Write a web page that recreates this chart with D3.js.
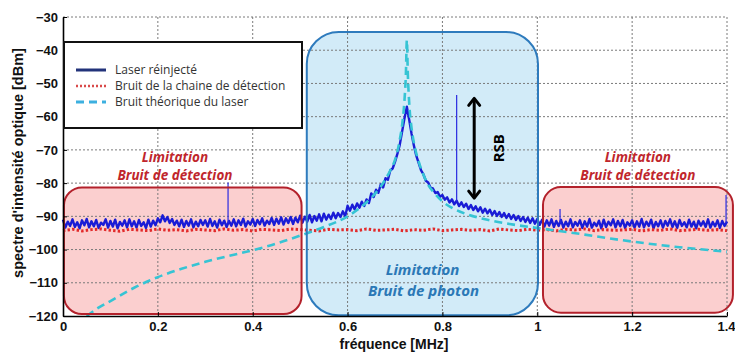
<!DOCTYPE html>
<html>
<head>
<meta charset="utf-8">
<script src="https://cdn.jsdelivr.net/npm/d3@7"></script>
<style>
  body { margin: 0; background: #fff; }
  svg text { font-family: "Liberation Sans", Arial, sans-serif; }
</style>
</head>
<body>
<div id="chart"></div>
<script>
// frequency axis (MHz) and level ticks (dBm)
var freqTicks = [0, 0.2, 0.4, 0.6, 0.8, 1, 1.2, 1.4];
var levelTicks = [-30, -40, -50, -60, -70, -80, -90, -100, -110, -120];

// laser spectrum, one sample every 0.005 MHz from 0 to 1.4
var laserStep = 0.005;
var laserLevel = [
  -91.0,-93.4,-91.6,-92.9,-90.9,-93.2,-91.8,-93.6,-91.2,-92.7,
  -90.8,-93.3,-91.5,-93.0,-91.1,-93.5,-91.9,-92.6,-90.9,-93.4,
  -91.4,-93.1,-91.0,-93.6,-91.7,-92.8,-91.2,-93.3,-90.9,-93.0,
  -91.5,-93.4,-91.1,-92.9,-91.8,-93.5,-91.0,-93.1,-91.3,-92.7,
  -90.6,-91.8,-89.7,-91.5,-90.2,-92.0,-90.8,-92.6,-91.3,-93.0,
  -91.0,-93.2,-91.4,-92.8,-90.9,-93.3,-91.6,-93.0,-91.1,-92.6,
  -91.2,-93.1,-90.8,-92.9,-91.5,-93.4,-91.0,-92.7,-91.3,-93.2,
  -91.4,-92.8,-90.9,-93.0,-91.2,-92.6,-90.7,-93.1,-91.5,-92.5,
  -90.8,-92.9,-91.1,-92.4,-90.6,-92.8,-91.3,-92.3,-90.5,-92.6,
  -90.7,-92.2,-90.3,-92.5,-90.6,-92.0,-90.2,-92.3,-90.4,-91.8,
  -89.8,-91.9,-90.1,-91.6,-89.6,-91.8,-89.9,-91.3,-89.4,-91.5,
  -89.2,-91.0,-89.5,-90.8,-88.9,-90.6,-89.0,-90.2,-88.5,-90.0,
  -86.8,-88.3,-86.5,-87.9,-86.1,-87.4,-85.6,-86.9,-84.9,-86.0,
  -83.1,-84.2,-82.0,-82.9,-80.4,-81.3,-78.5,-79.0,-76.2,-75.6,
  -73.6,-71.2,-68.5,-64.5,-60.5,-57.0,-61.0,-65.2,-68.8,-71.8,
  -74.0,-76.2,-77.4,-79.3,-79.8,-81.4,-81.6,-83.0,-82.7,-84.1,
  -83.6,-85.0,-84.3,-85.8,-84.9,-86.4,-85.3,-86.9,-85.8,-87.2,
  -86.2,-87.8,-86.6,-88.1,-87.0,-88.5,-87.3,-88.9,-87.7,-89.1,
  -88.0,-89.6,-88.4,-89.9,-88.7,-90.2,-89.0,-90.5,-89.3,-90.8,
  -89.6,-91.1,-89.9,-91.4,-90.2,-91.7,-90.4,-92.0,-90.6,-92.2,
  -90.8,-92.6,-91.0,-93.1,-91.2,-92.8,-90.9,-93.2,-91.4,-92.9,
  -91.1,-93.4,-91.6,-93.0,-90.9,-93.3,-91.7,-92.8,-91.2,-93.5,
  -91.5,-93.1,-90.8,-93.4,-91.9,-92.9,-91.3,-93.6,-91.0,-93.2,
  -91.6,-92.7,-90.9,-93.3,-91.4,-93.0,-91.1,-93.5,-91.8,-92.8,
  -91.2,-93.4,-91.5,-93.1,-90.8,-93.3,-91.6,-92.9,-91.0,-93.6,
  -91.7,-93.0,-91.2,-93.4,-91.4,-92.8,-90.9,-93.2,-91.5,-93.5,
  -91.1,-92.9,-91.8,-93.3,-91.0,-93.1,-91.6,-93.6,-91.3,-92.8,
  -91.5,-93.2,-90.9,-93.4,-91.7,-93.0,-91.2,-93.5,-91.4,-92.9,-91.6
];

// narrow spurious lines in the laser spectrum
var spikeFreq = [0.348, 0.83, 1.048, 1.398];
var spikeBase = [-92.0, -85.5, -92.0, -92.0];
var spikeTop = [-79.8, -53.5, -87.8, -83.6];

// detection chain noise, one sample every 0.02 MHz
var detStep = 0.02;
var detLevel = [
  -94.3,-93.9,-94.4,-94.0,-93.8,-94.2,-94.5,-93.9,-94.1,-94.3,
  -93.8,-94.2,-94.0,-94.4,-93.9,-94.1,-94.3,-93.8,-94.2,-94.0,
  -94.4,-93.9,-94.1,-94.3,-93.8,-94.0,-94.2,-94.4,-93.9,-94.1,
  -94.0,-94.3,-93.8,-94.2,-94.1,-93.9,-94.4,-94.0,-94.2,-93.8,
  -94.3,-94.1,-93.9,-94.2,-94.0,-94.4,-93.8,-94.1,-94.3,-93.9,
  -94.2,-94.0,-94.4,-93.9,-94.1,-93.8,-94.3,-94.0,-94.2,-94.1,
  -93.9,-94.4,-94.0,-94.2,-93.8,-94.3,-94.1,-93.9,-94.2,-94.0,-94.3
];

// theoretical laser noise
var theoFreq = [0.05,0.075,0.1,0.15,0.2,0.25,0.3,0.35,0.4,0.45,0.5,0.55,0.6,0.63,0.65,0.67,0.68,0.69,0.7,0.705,0.71,0.715,0.72,0.723,0.725,
  0.727,0.73,0.735,0.74,0.75,0.76,0.77,0.78,0.8,0.825,0.85,0.9,0.95,1.0,1.05,1.1,1.15,1.2,1.25,1.3,1.35,1.4];
var theoLevel = [-120,-117.5,-115.5,-111.5,-108.3,-105.8,-103.7,-101.9,-100.2,-98.2,-95.8,-93.2,-90,-87,-84.4,-81,-78.8,-76.2,-73,-70.5,-67,-62.5,-55,-47,-37,
  -47,-56,-63.5,-68,-73.5,-77.5,-80.5,-82.5,-85.5,-87.8,-89.3,-91.2,-92.5,-93.5,-94.5,-95.5,-96.6,-97.6,-98.5,-99.3,-100,-100.7];

var seriesNames = ["Laser réinjecté", "Bruit de la chaine de détection", "Bruit théorique du laser"];

var width = 735, height = 352;
var x = d3.scaleLinear().domain([0, 1.4]).range([63, 727]);
var y = d3.scaleLinear().domain([-120, -30]).range([316, 17]);

var svg = d3.select("#chart").append("svg")
  .attr("width", width)
  .attr("height", height);

var pink = "#fbcfcf", pinkEdge = "#b3212b";
var sky = "#d2ebf8", skyEdge = "#2e7bbd";

// zones
var zones = [
  { x0: 0.002, x1: 0.503, y0: -81.3, y1: -119.4, fill: pink, stroke: pinkEdge, r: 18 },
  { x0: 1.012, x1: 1.4125, y0: -81.2, y1: -119.0, fill: pink, stroke: pinkEdge, r: 18 },
  { x0: 0.514, x1: 1.0015, y0: -34.5, y1: -119.8, fill: sky, stroke: skyEdge, r: 32 }
];

svg.append("g").selectAll("rect")
  .data(zones)
  .enter().append("rect")
  .attr("x", function (d) { return x(d.x0); })
  .attr("y", function (d) { return y(d.y0); })
  .attr("width", function (d) { return x(d.x1) - x(d.x0); })
  .attr("height", function (d) { return y(d.y1) - y(d.y0); })
  .attr("rx", function (d) { return d.r; })
  .attr("fill", function (d) { return d.fill; });

// grid
var grid = svg.append("g").attr("stroke", "#7a7a7a").attr("stroke-dasharray", "2,2").attr("stroke-width", 1);
grid.selectAll(".vx")
  .data(freqTicks.slice(1))
  .enter().append("line")
  .attr("x1", function (d) { return x(d); })
  .attr("x2", function (d) { return x(d); })
  .attr("y1", y(-30))
  .attr("y2", y(-120));
grid.selectAll(".hy")
  .data(levelTicks.slice(0, -1))
  .enter().append("line")
  .attr("x1", x(0))
  .attr("x2", x(1.4))
  .attr("y1", function (d) { return y(d); })
  .attr("y2", function (d) { return y(d); });

// data
var laserPts = laserLevel.map(function (v, i) { return [i * laserStep, v]; });
var detPts = detLevel.map(function (v, i) { return [i * detStep, v]; });
var theoPts = theoFreq.map(function (f, i) { return [f, theoLevel[i]]; });

var line = d3.line()
  .x(function (d) { return x(d[0]); })
  .y(function (d) { return y(d[1]); });

var plot = svg.append("g");

plot.append("path")
  .datum(laserPts)
  .attr("d", line)
  .attr("fill", "none")
  .attr("stroke", "#1a1cd6")
  .attr("stroke-width", 2.4)
  .attr("stroke-linejoin", "round");

plot.selectAll(".spike")
  .data(spikeFreq)
  .enter().append("line")
  .attr("x1", function (d) { return x(d); })
  .attr("x2", function (d) { return x(d); })
  .attr("y1", function (d, i) { return y(spikeBase[i]); })
  .attr("y2", function (d, i) { return y(spikeTop[i]); })
  .attr("stroke", "#2a2ae0")
  .attr("stroke-width", 1.2);

plot.append("path")
  .datum(detPts)
  .attr("d", line)
  .attr("fill", "none")
  .attr("stroke", "#e22a2a")
  .attr("stroke-width", 3)
  .attr("stroke-dasharray", "2.4,2.2");

plot.append("path")
  .datum(theoPts)
  .attr("d", line.curve(d3.curveMonotoneX))
  .attr("fill", "none")
  .attr("stroke", "#36c4d4")
  .attr("stroke-width", 2.6)
  .attr("stroke-dasharray", "8,5");

// zone outlines on top
svg.append("g").selectAll("rect")
  .data(zones)
  .enter().append("rect")
  .attr("x", function (d) { return x(d.x0); })
  .attr("y", function (d) { return y(d.y0); })
  .attr("width", function (d) { return x(d.x1) - x(d.x0); })
  .attr("height", function (d) { return y(d.y1) - y(d.y0); })
  .attr("rx", function (d) { return d.r; })
  .attr("fill", "none")
  .attr("stroke", function (d) { return d.stroke; })
  .attr("stroke-width", 2);

// axes
var xAxis = d3.axisBottom(x).tickValues(freqTicks).tickFormat(d3.format("~g"))
  .tickSizeInner(-4).tickSizeOuter(0).tickPadding(6);
var yAxis = d3.axisLeft(y).tickValues(levelTicks).tickFormat(d3.format("d"))
  .tickSizeInner(-4).tickSizeOuter(0).tickPadding(5);

var gx = svg.append("g").attr("transform", "translate(0," + y(-120) + ")").call(xAxis);
var gy = svg.append("g").attr("transform", "translate(" + x(0) + ",0)").call(yAxis);
[gx, gy].forEach(function (g) {
  g.select(".domain").attr("stroke", "#000").attr("stroke-width", 1.6);
  g.selectAll(".tick line").attr("stroke", "#000");
  g.selectAll(".tick text")
    .attr("fill", "#111")
    .style("font-size", "13px")
    .style("font-weight", "bold")
    .style("font-family", "'Liberation Sans', Arial, sans-serif");
});
gx.selectAll(".tick").filter(function (d) { return d === 0; }).select("line").remove();
// keep the last label inside the frame
gx.selectAll(".tick").filter(function (d) { return d === 1.4; }).select("text").attr("text-anchor", "end").attr("x", 8);

svg.append("text")
  .attr("x", 394).attr("y", 349)
  .attr("text-anchor", "middle")
  .style("font-size", "14px").style("font-weight", "bold")
  .attr("fill", "#111")
  .text("fréquence [MHz]");

svg.append("text")
  .attr("transform", "translate(23,163) rotate(-90)")
  .attr("text-anchor", "middle")
  .style("font-size", "14.5px").style("font-weight", "bold")
  .attr("fill", "#111")
  .text("spectre d'intensité optique [dBm]");

// annotations
var notes = [
  { f: 0.236, v: -73.7, t: "Limitation", c: "#c0262c", s: 13.5 },
  { f: 0.236, v: -79.1, t: "Bruit de détection", c: "#c0262c", s: 13.5 },
  { f: 1.212, v: -73.7, t: "Limitation", c: "#c0262c", s: 13.5 },
  { f: 1.212, v: -79.1, t: "Bruit de détection", c: "#c0262c", s: 13.5 },
  { f: 0.758, v: -107.6, t: "Limitation", c: "#2b78b6", s: 15 },
  { f: 0.760, v: -114, t: "Bruit de photon", c: "#2b78b6", s: 15 }
];
svg.append("g").selectAll("text")
  .data(notes)
  .enter().append("text")
  .attr("x", function (d) { return x(d.f); })
  .attr("y", function (d) { return y(d.v); })
  .attr("text-anchor", "middle")
  .attr("fill", function (d) { return d.c; })
  .style("font-family", "'Open Sans', sans-serif")
  .style("font-style", "italic")
  .style("font-weight", "bold")
  .style("font-size", function (d) { return d.s + "px"; })
  .text(function (d) { return d.t; });

// RSB arrow
var ax = x(0.867), aTop = y(-54.5), aBot = y(-84.5);
var arrow = svg.append("g").attr("stroke", "#000").attr("stroke-width", 3).attr("fill", "none")
  .attr("stroke-linecap", "round").attr("stroke-linejoin", "round");
arrow.append("line").attr("x1", ax).attr("x2", ax).attr("y1", aTop + 1).attr("y2", aBot - 1);
arrow.append("path").attr("d", "M" + (ax - 5.5) + "," + (aTop + 7) + "L" + ax + "," + aTop + "L" + (ax + 5.5) + "," + (aTop + 7));
arrow.append("path").attr("d", "M" + (ax - 5.5) + "," + (aBot - 7) + "L" + ax + "," + aBot + "L" + (ax + 5.5) + "," + (aBot - 7));

svg.append("text")
  .attr("transform", "translate(" + (x(0.919) + 5) + "," + y(-69.5) + ") rotate(-90)")
  .attr("text-anchor", "middle")
  .style("font-family", "'Open Sans', sans-serif")
  .style("font-weight", "bold")
  .style("font-size", "15px")
  .attr("fill", "#000")
  .text("RSB");

// legend
var legend = svg.append("g");
legend.append("rect")
  .attr("x", 64).attr("y", 42)
  .attr("width", 238).attr("height", 86)
  .attr("fill", "#fff")
  .attr("stroke", "#111")
  .attr("stroke-width", 2);

var legendStyle = [
  { c: "#22337a", d: null, w: 3 },
  { c: "#d94a4a", d: "2,2", w: 2.5 },
  { c: "#3cb0e0", d: "8,5", w: 3 }
];
var rows = legend.selectAll(".row")
  .data(seriesNames)
  .enter().append("g")
  .attr("transform", function (d, i) { return "translate(0," + (70 + i * 16) + ")"; });
rows.append("line")
  .attr("x1", 76).attr("x2", 106)
  .attr("stroke", function (d, i) { return legendStyle[i].c; })
  .attr("stroke-width", function (d, i) { return legendStyle[i].w; })
  .attr("stroke-dasharray", function (d, i) { return legendStyle[i].d; });
rows.append("text")
  .attr("x", 115).attr("y", 4)
  .attr("fill", "#333")
  .style("font-family", "'Open Sans', sans-serif")
  .style("font-size", "12px")
  .text(function (d) { return d; });
</script>
</body>
</html>
